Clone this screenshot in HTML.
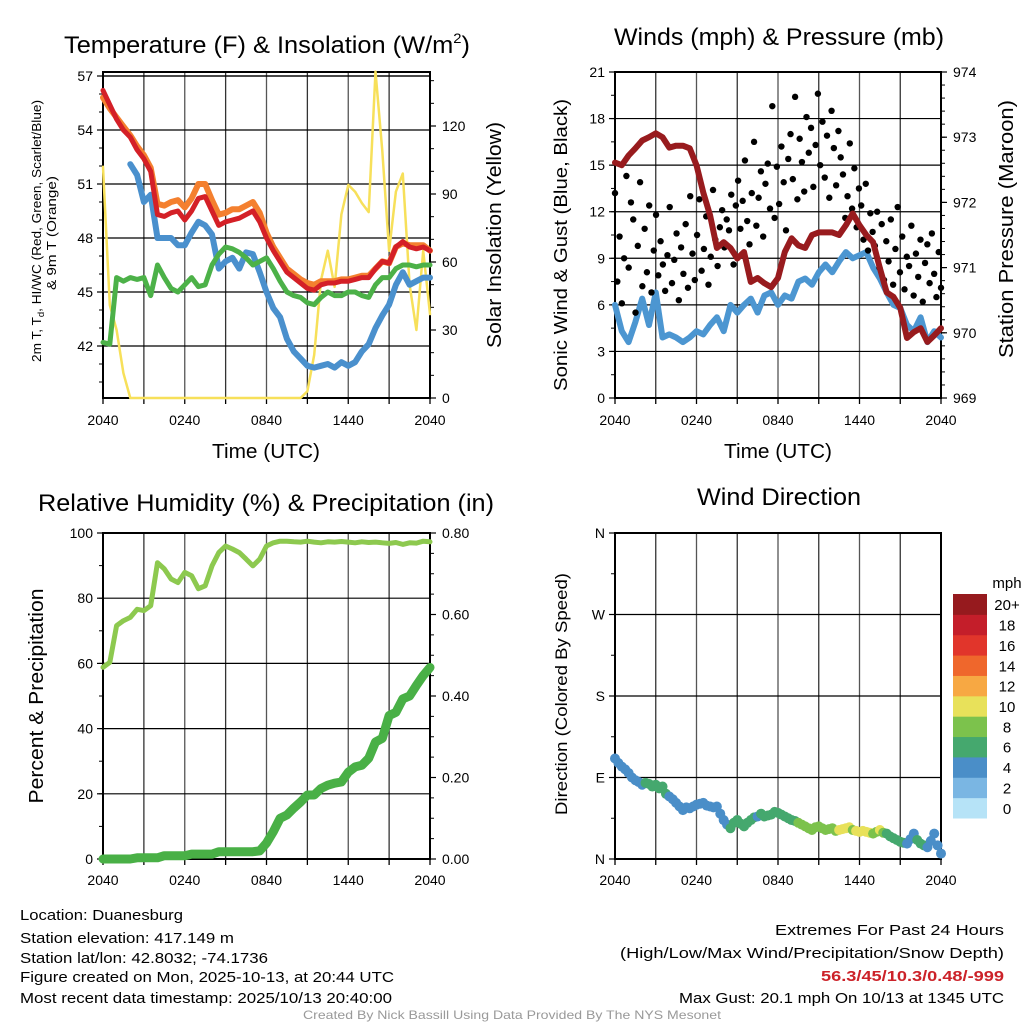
<!DOCTYPE html>
<html><head><meta charset="utf-8"><style>
html,body{margin:0;padding:0;background:#fff;}
svg{display:block;font-family:"Liberation Sans",Arial,sans-serif;}
</style></head><body>
<svg id="fig" width="1024" height="1024" viewBox="0 0 1024 1024" xmlns="http://www.w3.org/2000/svg">
<rect width="1024" height="1024" fill="#fff"/>
<text x="64" y="53" font-size="24" textLength="406" lengthAdjust="spacingAndGlyphs">Temperature (F) &amp; Insolation (W/m<tspan font-size="14" dy="-10">2</tspan><tspan dy="10">)</tspan></text>
<text x="614" y="45" font-size="24" textLength="330" lengthAdjust="spacingAndGlyphs">Winds (mph) &amp; Pressure (mb)</text>
<text x="38" y="511" font-size="24" textLength="456" lengthAdjust="spacingAndGlyphs">Relative Humidity (%) &amp; Precipitation (in)</text>
<text x="697" y="505" font-size="24" textLength="164" lengthAdjust="spacingAndGlyphs">Wind Direction</text>
<text x="212" y="458" font-size="20" textLength="108" lengthAdjust="spacingAndGlyphs">Time (UTC)</text>
<text x="724" y="458" font-size="20" textLength="108" lengthAdjust="spacingAndGlyphs">Time (UTC)</text>
<text transform="translate(41,231) rotate(-90)" text-anchor="middle" font-size="13" textLength="262" lengthAdjust="spacingAndGlyphs">2m T, T<tspan font-size="9" dy="3">d</tspan><tspan dy="-3">, HI/WC (Red, Green, Scarlet/Blue)</tspan></text>
<text transform="translate(56,233) rotate(-90)" text-anchor="middle" font-size="13" textLength="114" lengthAdjust="spacingAndGlyphs">&amp; 9m T (Orange)</text>
<text transform="translate(501,235) rotate(-90)" text-anchor="middle" font-size="20" textLength="226" lengthAdjust="spacingAndGlyphs">Solar Insolation (Yellow)</text>
<text transform="translate(567,245) rotate(-90)" text-anchor="middle" font-size="18" textLength="292" lengthAdjust="spacingAndGlyphs">Sonic Wind &amp; Gust (Blue, Black)</text>
<text transform="translate(1013,229) rotate(-90)" text-anchor="middle" font-size="20" textLength="258" lengthAdjust="spacingAndGlyphs">Station Pressure (Maroon)</text>
<text transform="translate(43,696) rotate(-90)" text-anchor="middle" font-size="20" textLength="215" lengthAdjust="spacingAndGlyphs">Percent &amp; Precipitation</text>
<text transform="translate(567,694) rotate(-90)" text-anchor="middle" font-size="17" textLength="242" lengthAdjust="spacingAndGlyphs">Direction (Colored By Speed)</text>
<g id="plots"></g>
<g font-size="15">
<text x="20" y="920" textLength="163" lengthAdjust="spacingAndGlyphs">Location: Duanesburg</text>
<text x="20" y="943" textLength="214" lengthAdjust="spacingAndGlyphs">Station elevation: 417.149 m</text>
<text x="20" y="963" textLength="248" lengthAdjust="spacingAndGlyphs">Station lat/lon: 42.8032; -74.1736</text>
<text x="20" y="982" textLength="374" lengthAdjust="spacingAndGlyphs">Figure created on Mon, 2025-10-13, at 20:44 UTC</text>
<text x="20" y="1003" textLength="372" lengthAdjust="spacingAndGlyphs">Most recent data timestamp: 2025/10/13 20:40:00</text>
</g>
<g font-size="15" text-anchor="end">
<text x="1004" y="935" textLength="229" lengthAdjust="spacingAndGlyphs">Extremes For Past 24 Hours</text>
<text x="1004" y="958" textLength="384" lengthAdjust="spacingAndGlyphs">(High/Low/Max Wind/Precipitation/Snow Depth)</text>
<text x="1004" y="981" textLength="183" lengthAdjust="spacingAndGlyphs" fill="#cc2229" font-weight="bold">56.3/45/10.3/0.48/-999</text>
<text x="1004" y="1003" textLength="325" lengthAdjust="spacingAndGlyphs">Max Gust: 20.1 mph On 10/13 at 1345 UTC</text>
</g>
<text x="512" y="1019" font-size="12" fill="#999" text-anchor="middle" textLength="418" lengthAdjust="spacingAndGlyphs">Created By Nick Bassill Using Data Provided By The NYS Mesonet</text>
</svg>
<script>
const timeTicks = ["2040","0240","0840","1440","2040"];
const tempRed = [56.2,55.4,54.6,54.0,53.6,52.9,52.4,51.7,49.3,49.2,49.4,49.5,49.0,49.5,50.2,50.3,49.5,48.7,48.9,49.0,49.1,49.3,49.5,48.9,48.0,47.3,46.7,46.1,45.8,45.5,45.2,45.1,45.4,45.5,45.5,45.6,45.6,45.7,45.8,45.8,46.3,46.7,46.6,47.5,47.8,47.5,47.4,47.5,47.3];
const temp9mOrange = [55.8,55.2,54.7,54.2,53.7,53.1,52.6,51.9,49.9,49.8,50.0,50.1,49.7,50.2,51.0,51.0,50.1,49.3,49.4,49.6,49.6,49.8,50.0,49.4,48.3,47.5,46.9,46.3,46.0,45.7,45.5,45.4,45.6,45.6,45.6,45.7,45.7,45.8,45.9,45.9,46.3,46.7,46.6,47.5,47.7,47.6,47.6,47.6,47.3];
const dewGreen = [42.2,42.1,45.8,45.6,45.8,45.7,45.8,44.8,46.5,45.8,45.2,45.0,45.4,45.8,45.3,45.4,46.5,47.1,47.5,47.4,47.2,46.9,46.5,46.7,46.9,46.3,45.6,45.0,44.8,44.7,44.4,44.3,44.7,45.0,44.8,44.8,45.0,45.0,44.8,44.7,45.4,45.8,45.8,46.3,46.5,46.5,46.4,46.5,46.5];
const windChillBlue = [null,null,null,null,52.1,51.5,50.0,50.4,48.0,48.0,48.0,47.6,47.6,48.3,48.9,48.7,48.2,46.3,46.7,46.9,46.3,47.2,47.1,46.1,45.0,44.1,43.6,42.4,41.7,41.3,40.9,40.8,40.9,41.0,40.8,41.1,40.9,41.1,41.7,42.1,43.0,43.7,44.3,45.4,46.1,45.4,45.6,45.8,45.8];
const solarYellow = [102,41,30,11,0,0,0,0,0,0,0,0,0,0,0,0,0,0,0,0,0,0,0,0,0,0,0,0,0,0,3,19,52,65,49,81,94,91,86,82,144,109,65,91,99,50,30,65,37];
const windBlue = [6.0,4.3,3.6,4.9,6.4,4.7,6.8,3.9,4.1,3.9,3.6,3.9,4.3,4.1,4.7,5.2,4.3,6.0,5.5,6.0,6.4,5.5,6.6,6.8,6.0,6.6,6.4,7.5,7.7,7.3,8.1,8.6,8.1,8.8,9.4,9.0,9.2,9.4,8.4,7.7,6.8,6.0,5.8,4.7,4.3,5.2,3.6,4.3,3.9];
const pressureMaroon = [972.61,972.57,972.72,972.83,972.95,973.0,973.06,973.0,972.84,972.87,972.87,972.83,972.57,972.15,971.8,971.3,971.39,971.3,971.14,971.24,970.78,970.84,970.76,970.70,970.84,971.24,971.45,971.34,971.3,971.5,971.54,971.54,971.54,971.5,971.65,971.83,971.65,971.5,971.39,970.99,970.62,970.55,970.38,969.92,970.01,970.07,969.86,969.96,970.07];
const gustBlack = [13.2,7.5,10.4,6.1,9.0,14.3, 8.4,12.6,11.5,5.5,9.8,13.9, 7.2,10.9,8.1,12.4,6.8,9.5, 11.8,7.9,10.1,8.6,6.9,9.2, 12.3,7.4,8.9,10.6,6.3,9.7, 8.0,11.2,7.1,13.0,9.3,7.6, 10.5,12.8,8.2,9.6,11.7,7.3, 9.1,13.4,10.2,8.5,11.0,12.1, 9.7,11.5,10.8,13.1,8.6,12.4, 14.0,10.9,12.7,15.3,11.4,9.9, 13.2,16.5,11.1,12.9,14.6,10.4, 13.8,15.1,12.2,18.8,11.6,14.9, 12.5,16.2,13.9,10.8,15.4,17.0, 14.1,19.4,12.8,16.7,15.2,13.3, 18.1,15.8,17.4,13.6,16.3,19.6, 15.0,17.8,14.2,16.9,12.9,18.5, 16.1,13.7,17.2,15.5,14.4,11.6, 13.0,16.4,12.2,14.8,11.0,13.5, 12.4,10.2,13.8,9.5,11.9,10.7, 9.8,12.0,8.4,11.2,7.6,10.1, 8.8,11.5,7.3,9.6,12.3,8.1, 10.4,7.0,9.1,8.5,11.1,6.6, 9.3,7.8,10.2,6.2,8.7,9.9, 7.4,10.6,8.0,6.5,9.4,7.1];
const rhLight = [58.8,60.3,71.6,73.1,74.1,76.6,76.2,77.7,90.9,89.0,85.9,84.8,87.9,86.9,82.9,83.8,89.9,94.0,96.0,95.1,94.0,92.0,89.9,92.0,96.0,97.0,97.5,97.5,97.3,97.2,97.5,97.2,97.0,97.3,97.2,97.4,97.2,97.0,97.3,97.1,97.2,97.0,96.8,97.1,96.5,97.0,96.9,97.5,97.3];
const precipGreen = [0,0,0,0,0,0.003,0.003,0.003,0.003,0.008,0.008,0.008,0.008,0.012,0.012,0.012,0.012,0.018,0.018,0.018,0.018,0.018,0.018,0.02,0.039,0.067,0.10,0.108,0.125,0.14,0.157,0.157,0.173,0.181,0.186,0.189,0.213,0.226,0.23,0.247,0.287,0.296,0.352,0.36,0.393,0.40,0.426,0.45,0.47];
// 15-min wind direction (deg) and speed (mph), 97 samples
const windDir = [111,106,102,99,95,90,87,85,82,84, 83,80,82,78,80,72,69,66,62,58, 54,57,56,58,60,61,62,59,58,57, 58,50,43,38,34,40,43,39,36,40, 43,46,47,50,47,48,49,52,51,49, 47,45,43,42,40,38,36,34,32,35, 36,34,32,33,34,31,32,33,34,35, 32,31,30,31,30,29,28,30,32,29, 28,25,23,21,19,18,17,22,28,21, 17,15,13,20,28,15,6];
const windSpd = [4.5,4.3,4.2,3.9,3.8,4.1,4.4,4.5,4.6,5.8, 6.5,6.7,6.8,6.4,6.2,5.0,4.5,4.4,4.3,4.2, 4.1,4.0,4.0,3.8,3.7,4.0,4.4,4.3,4.2,4.4, 4.6,4.7,4.8,4.9,5.0,5.8,6.4,6.5,6.6,6.7, 6.8,5.2,4.5,5.6,6.2,6.5,6.7,6.8,6.9,6.7, 6.5,6.4,6.3,6.6,7.0,7.6,8.2,8.3,8.5,8.0, 7.6,8.0,8.3,8.6,8.8,8.9,9.0,9.6,10.4,9.5, 8.6,9.4,10.6,10.3,10.2,9.2,8.4,8.8,9.2,7.8, 6.7,6.5,6.4,6.3,6.1,5.2,4.5,4.6,4.8,5.6, 6.3,5.2,4.4,4.1,3.9,4.0,4.2];
const speedBins = ["0","2","4","6","8","10","12","14","16","18","20+"];
const binColors = ["#b6e3f7","#7ab6e3","#4a8ec8","#45a86e","#7cc24c","#e8e15a","#f7a843","#ef672c","#e1352b","#c41e2a","#961a1e"];

const NS="http://www.w3.org/2000/svg";
const root=document.getElementById('plots');
function mk(tag,attrs,parent){const e=document.createElementNS(NS,tag);for(const k in attrs)e.setAttribute(k,attrs[k]);(parent||root).appendChild(e);return e;}
function txt(s,attrs,parent){const e=mk('text',attrs,parent);e.textContent=s;return e;}
function val(v){return v!==null&&typeof v==='object'?v.v:v;}

function panel(name,L,R,T,B,leftTicks,leftY,rightTicks,rightY,minorL,minorR,tickY){
  const g=mk('g',{});
  
  
  const W=R-L;
  for(let k=0;k<=8;k++){const x=L+W*k/8;
    const l=mk('line',{x1:x,x2:x,y1:T,y2:B,stroke:k%2?'#333':'#555','stroke-width':1.3},g);
    
    
    const t=mk('line',{x1:x,x2:x,y1:B,y2:B+6,stroke:'#000','stroke-width':1.3},g);
    
    
  }
  leftTicks.forEach(v=>{const y=leftY(v);
    const l=mk('line',{x1:L,x2:R,y1:y,y2:y,stroke:'#000','stroke-width':1.2},g);
    
    
    mk('line',{x1:L-6,x2:L,y1:y,y2:y,stroke:'#000','stroke-width':1.2},g);
    const t=txt(v.label,{x:L-10,y:y+5,'font-size':14,'text-anchor':'end'},g);
    
    
  });
  minorL.forEach(v=>{const y=leftY(v);mk('line',{x1:L-4,x2:L,y1:y,y2:y,stroke:'#000','stroke-width':1},g);});
  if(rightTicks){rightTicks.forEach(v=>{const y=rightY(v);
    mk('line',{x1:R,x2:R+6,y1:y,y2:y,stroke:'#000','stroke-width':1.2},g);
    const t=txt(v.label,{x:R+12,y:y+5,'font-size':14},g);
    
    
  });
  minorR.forEach(v=>{const y=rightY(v);mk('line',{x1:R,x2:R+4,y1:y,y2:y,stroke:'#000','stroke-width':1},g);});}
  if(tickY) timeTicks.forEach((s,k)=>{const t=txt(s,{x:L+W*k/4,y:tickY,'font-size':14,'text-anchor':'middle'},g);
    
    });
  const fr=mk('rect',{x:L,y:T,width:W,height:B-T,fill:'none',stroke:'#000','stroke-width':2},g);
  
  
  return g;
}
function xs(L,R,n){return i=>L+(R-L)*i/(n-1);}
function series(arr,xf,yf,color,w,name,parent){
  let d='',pen=false;
  arr.forEach((v,i)=>{if(v===null){pen=false;return;}d+=(pen?'L':'M')+xf(i).toFixed(1)+','+yf(v).toFixed(1);pen=true;});
  const p=mk('path',{d:d,fill:'none',stroke:color,'stroke-width':w,'stroke-linejoin':'round','stroke-linecap':'round'},parent);
  
  
  return p;
}
function ticks(a,b,s,fmt){const r=[];for(let v=a;v<=b+1e-9;v+=s)r.push({v:v,label:fmt(v)});return r;}
function rng(a,b,s){const r=[];for(let v=a;v<=b+1e-9;v+=s)r.push({v:v});return r;}

{const L=103,R=430,T=72,B=398;
 const yT=v=>76+(57-val(v))*18;
 const yS=v=>398-val(v)*68/30;
 const g=panel('temperature-panel',L,R,T,B,ticks(42,57,3,v=>String(v)),yT,ticks(0,120,30,v=>String(v)),yS,rng(40,57,1),rng(0,140,10),425);
 mk('line',{x1:L,x2:R,y1:76,y2:76,stroke:'#000','stroke-width':1.2},g);
 const x=xs(L,R,49);
 series(solarYellow,x,yS,'#f7e05a',2.5,'solar-insolation-line',g);
 series(windChillBlue,x,yT,'#4a90cd',6,'wind-chill-line',g);
 series(dewGreen,x,yT,'#4cb148',5,'dewpoint-line',g);
 series(temp9mOrange,x,yT,'#f4802f',6,'temp-9m-line',g);
 series(tempRed,x,yT,'#d42027',5,'temp-2m-line',g);
}
{const L=615,R=941,T=72,B=398;
 const yW=v=>398-val(v)*326/21;
 const yP=v=>398-(val(v)-969)*65.2;
 const g=panel('winds-panel',L,R,T,B,ticks(0,21,3,v=>String(v)),yW,ticks(969,974,1,v=>String(v)),yP,rng(0,21,1.5),rng(969,974,0.2),425);
 const x=xs(L,R,49);
 series(windBlue,x,yW,'#4c96d1',6,'sonic-wind-line',g);
 const xg=xs(L,R,144);
 gustBlack.forEach((v,i)=>{const c=mk('circle',{cx:xg(i),cy:yW(v),r:3.2,fill:'#000'},g);
   
   });
 series(pressureMaroon,x,yP,'#981b1e',6,'pressure-line',g);
}
{const L=103,R=430,T=533,B=859;
 const yR=v=>859-val(v)*3.26;
 const yPr=v=>859-val(v)*326/0.8;
 const g=panel('humidity-panel',L,R,T,B,ticks(0,100,20,v=>String(v)),yR,ticks(0,0.8,0.2,v=>v.toFixed(2)),yPr,rng(0,100,10),rng(0,0.8,0.05),885);
 const x=xs(L,R,49);
 series(rhLight,x,yR,'#8dc94f',5,'relative-humidity-line',g);
 series(precipGreen,x,yPr,'#49b046',9,'precipitation-line',g);
}
{const L=615,R=941,T=533,B=859;
 const dirLabels=["N","E","S","W","N"];
 const yD=v=>859-val(v)*326/360;
 const dt=[0,90,180,270,360].map((v,k)=>({v:v,label:dirLabels[k]}));
 const g=panel('wind-direction-panel',L,R,T,B,dt,yD,null,null,rng(0,360,45),[],885);
 const x=xs(L,R,windDir.length);
 windDir.forEach((d,i)=>{const bin=Math.min(10,Math.max(0,Math.round(windSpd[i]/2)));
   const c=mk('circle',{cx:x(i),cy:yD(d),r:5,fill:binColors[bin]},g);
   
   });
 const cb=mk('g',{});
 
 
 const top=594,h=(818-594)/11;
 speedBins.forEach((s,k)=>{const y=top+(10-k)*h;
   const r=mk('rect',{x:953,y:y,width:34,height:h+0.5,fill:binColors[k]},cb);
   
   
   const t=txt(s,{x:1007,y:y+h/2+6,'font-size':15,'text-anchor':'middle'},cb);
   
   });
 const u=txt('mph',{x:1007,y:588,'font-size':15,'text-anchor':'middle'},cb);
 
 
}
</script>
</body></html>
